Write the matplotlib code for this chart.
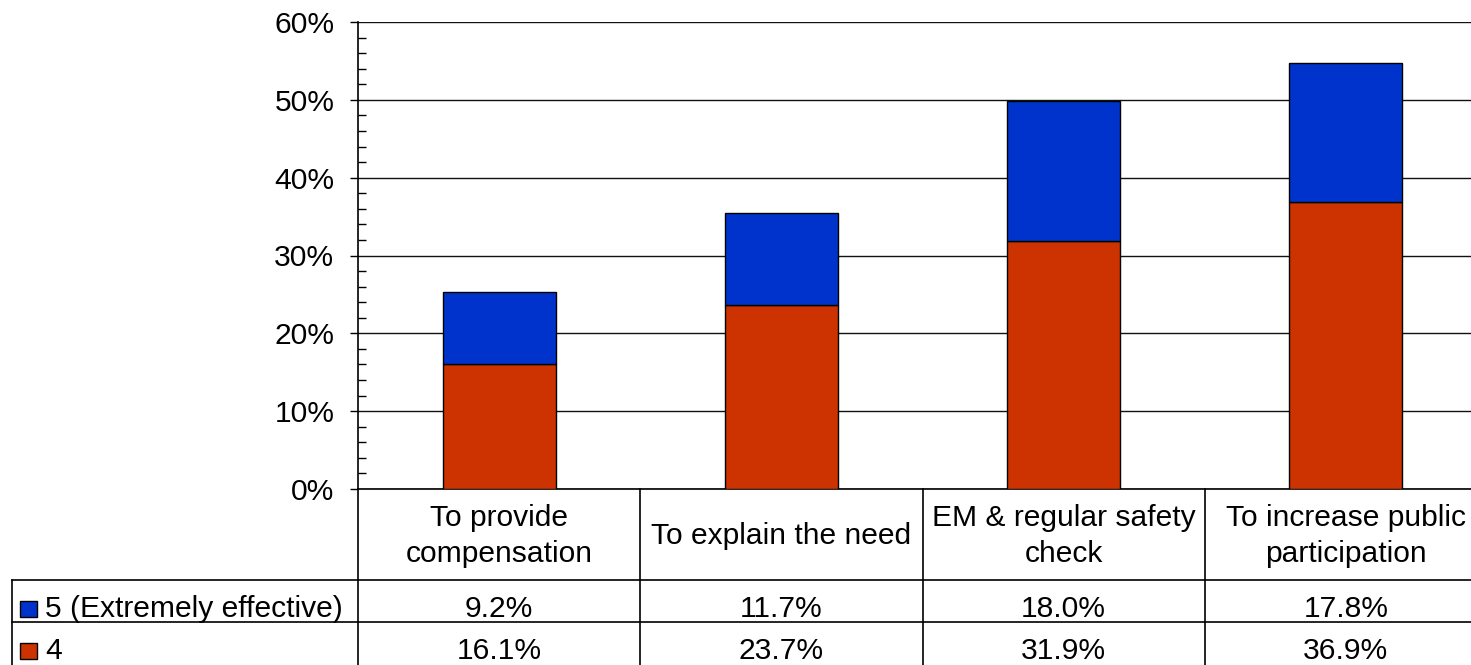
import matplotlib
matplotlib.use('Agg')
import matplotlib.pyplot as plt
from matplotlib.ticker import MultipleLocator, FuncFormatter
from matplotlib.transforms import blended_transform_factory
from matplotlib.patches import Rectangle

categories = ['To provide\ncompensation', 'To explain the need',
              'EM & regular safety\ncheck', 'To increase public\nparticipation']
series_names = ['5 (Extremely effective)', '4']
extremely = [9.2, 11.7, 18.0, 17.8]
effective = [16.1, 23.7, 31.9, 36.9]
colors = ['#0033CC', '#CC3300']
yticks = [0, 10, 20, 30, 40, 50, 60]

W, H = 1471, 665
FS = 21.6
plt.rcParams['font.family'] = ['Liberation Sans', 'DejaVu Sans']
fig = plt.figure(figsize=(W / 100, H / 100), dpi=100)

# main chart, right edge runs past the figure like in the original crop
ax = fig.add_axes([358 / W, 176 / H, 1129 / W, 467 / H])
x = list(range(len(categories)))
ax.bar(x, effective, 0.4, color=colors[1], edgecolor='black', linewidth=1, zorder=3)
ax.bar(x, extremely, 0.4, bottom=effective, color=colors[0], edgecolor='black',
       linewidth=1, zorder=3)
ax.set_xlim(-0.5, len(categories) - 0.5)
ax.set_ylim(0, 60)
ax.set_yticks(yticks)
ax.yaxis.set_major_formatter(FuncFormatter(lambda v, p: '%d%%' % v))
ax.yaxis.set_minor_locator(MultipleLocator(2))
ax.tick_params(axis='y', which='major', direction='out', length=6, width=1,
               pad=11, labelsize=FS)
ax.tick_params(axis='y', which='minor', direction='in', length=6, width=1)
ax.set_xticks([])
ax.grid(axis='y', color='#111111', linewidth=1, zorder=0)
for s in ['top', 'right']:
    ax.spines[s].set_visible(False)
for s in ['left', 'bottom']:
    ax.spines[s].set_linewidth(1.2)

# data table underneath
tab = fig.add_axes([0, 0, 1, 176 / H])
tab.set_xlim(0, W)
tab.set_ylim(176, 0)
tab.axis('off')
trans = blended_transform_factory(ax.transData, tab.transData)

lw = 1.2
for k in range(len(categories) + 1):
    tab.plot([k - 0.5, k - 0.5], [0, 176], color='black', lw=lw,
             transform=trans, clip_on=False)
for yy in [91, 133]:
    tab.plot([12, W + 30], [yy, yy], color='black', lw=lw, clip_on=False)
tab.plot([12, 12], [91, 176], color='black', lw=lw, clip_on=False)

for i, cat in enumerate(categories):
    tab.text(i, 47, cat, transform=trans, ha='center', va='center',
             fontsize=FS, linespacing=1.4)

rows = [extremely, effective]
baselines = [128, 170]
for r, vals in enumerate(rows):
    for i, v in enumerate(vals):
        tab.text(i, baselines[r], '%.1f%%' % v, transform=trans, ha='center',
                 va='baseline', fontsize=FS)
    tab.add_patch(Rectangle((20, baselines[r] - 16.5), 17, 16.5, facecolor=colors[r],
                            edgecolor='black', lw=1, clip_on=False))
    tab.text(45, baselines[r], series_names[r], ha='left', va='baseline', fontsize=FS)

fig.savefig('out.png', dpi=100)
